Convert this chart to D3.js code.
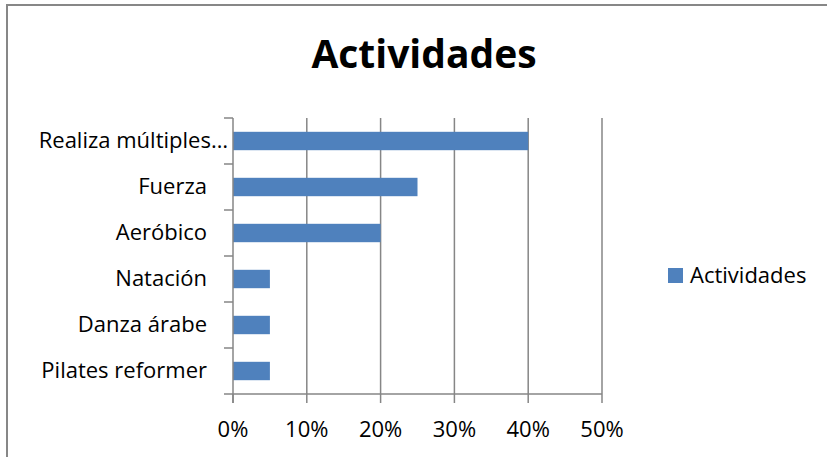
<!DOCTYPE html>
<html>
<head>
<meta charset="utf-8">
<script src="https://cdn.jsdelivr.net/npm/d3@7"></script>
<style>
  html, body { margin: 0; padding: 0; background: #fff; }
  text { font-family: "Open Sans", "Liberation Sans", sans-serif; fill: #000; }
</style>
</head>
<body>
<div id="chart"></div>
<script>
/* data, top to bottom as drawn */
var categories = ['Realiza múltiples…', 'Fuerza', 'Aeróbico', 'Natación', 'Danza árabe', 'Pilates reformer'];
var values = [0.40, 0.25, 0.20, 0.05, 0.05, 0.05];
var xTicks = [0, 0.1, 0.2, 0.3, 0.4, 0.5];
var seriesName = 'Actividades';

(function drawChart() {
  var W = 827, H = 457;
  var svg = d3.select('#chart').append('svg')
    .attr('width', W).attr('height', H);

  var grid = '#868686', barCol = '#4f81bd';

  /* ── outer frame (only top + left visible) ── */
  svg.append('rect')
    .attr('x', 7).attr('y', 5).attr('width', W + 10).attr('height', H + 10)
    .attr('fill', 'none').attr('stroke', '#878787').attr('stroke-width', 2);

  /* ── title ── */
  svg.append('text')
    .attr('x', 424).attr('y', 68)
    .attr('text-anchor', 'middle')
    .style('font-size', '39px').style('font-weight', 'bold')
    .text('Actividades');

  var left = 233, right = 602, top = 118, bottom = 394;

  var x = d3.scaleLinear().domain([0, 0.5]).range([left, right]);
  var y = d3.scaleBand().domain(categories).range([top, bottom])
    .paddingInner(0.6).paddingOuter(0.3);
  var yEdge = d3.scaleBand().domain(categories).range([top, bottom]);

  /* ── vertical gridlines ── */
  svg.append('g').selectAll('line').data(xTicks.slice(1)).join('line')
    .attr('x1', function (d) { return x(d); }).attr('x2', function (d) { return x(d); })
    .attr('y1', top).attr('y2', bottom)
    .attr('stroke', grid).attr('stroke-width', 1.5);

  /* ── bars ── */
  svg.append('g').selectAll('rect').data(values).join('rect')
    .attr('x', x(0))
    .attr('y', function (d, i) { return y(categories[i]); })
    .attr('width', function (d) { return x(d) - x(0); })
    .attr('height', y.bandwidth())
    .attr('fill', barCol);

  /* ── x axis ── */
  svg.append('line')
    .attr('x1', left - 9).attr('x2', right)
    .attr('y1', bottom).attr('y2', bottom)
    .attr('stroke', grid).attr('stroke-width', 1.5);
  svg.append('g').selectAll('line').data(xTicks).join('line')
    .attr('x1', function (d) { return x(d); }).attr('x2', function (d) { return x(d); })
    .attr('y1', bottom).attr('y2', bottom + 9)
    .attr('stroke', grid).attr('stroke-width', 1.5);
  svg.append('g').selectAll('text').data(xTicks).join('text')
    .attr('x', function (d) { return x(d); }).attr('y', 437)
    .attr('text-anchor', 'middle')
    .style('font-size', '22px')
    .text(d3.format('.0%'));

  /* ── y axis ── */
  svg.append('line')
    .attr('x1', left).attr('x2', left)
    .attr('y1', top).attr('y2', bottom + 9)
    .attr('stroke', grid).attr('stroke-width', 1.5);
  var edges = categories.map(function (c) { return yEdge(c); });
  svg.append('g').selectAll('line').data(edges).join('line')
    .attr('x1', left - 9).attr('x2', left)
    .attr('y1', function (d) { return d; }).attr('y2', function (d) { return d; })
    .attr('stroke', grid).attr('stroke-width', 1.5);
  svg.append('g').selectAll('text').data(categories).join('text')
    .attr('x', function (d) { return d.slice(-1) === '…' ? 228 : 207; })
    .attr('y', function (d) { return yEdge(d) + yEdge.bandwidth() / 2 + 7; })
    .attr('text-anchor', 'end')
    .style('font-size', '22px')
    .text(function (d) { return d; });

  /* ── legend ── */
  svg.append('rect')
    .attr('x', 668).attr('y', 268).attr('width', 15).attr('height', 15)
    .attr('fill', barCol);
  svg.append('text')
    .attr('x', 690).attr('y', 283)
    .style('font-size', '22px')
    .text(seriesName);
}());
</script>
</body>
</html>
